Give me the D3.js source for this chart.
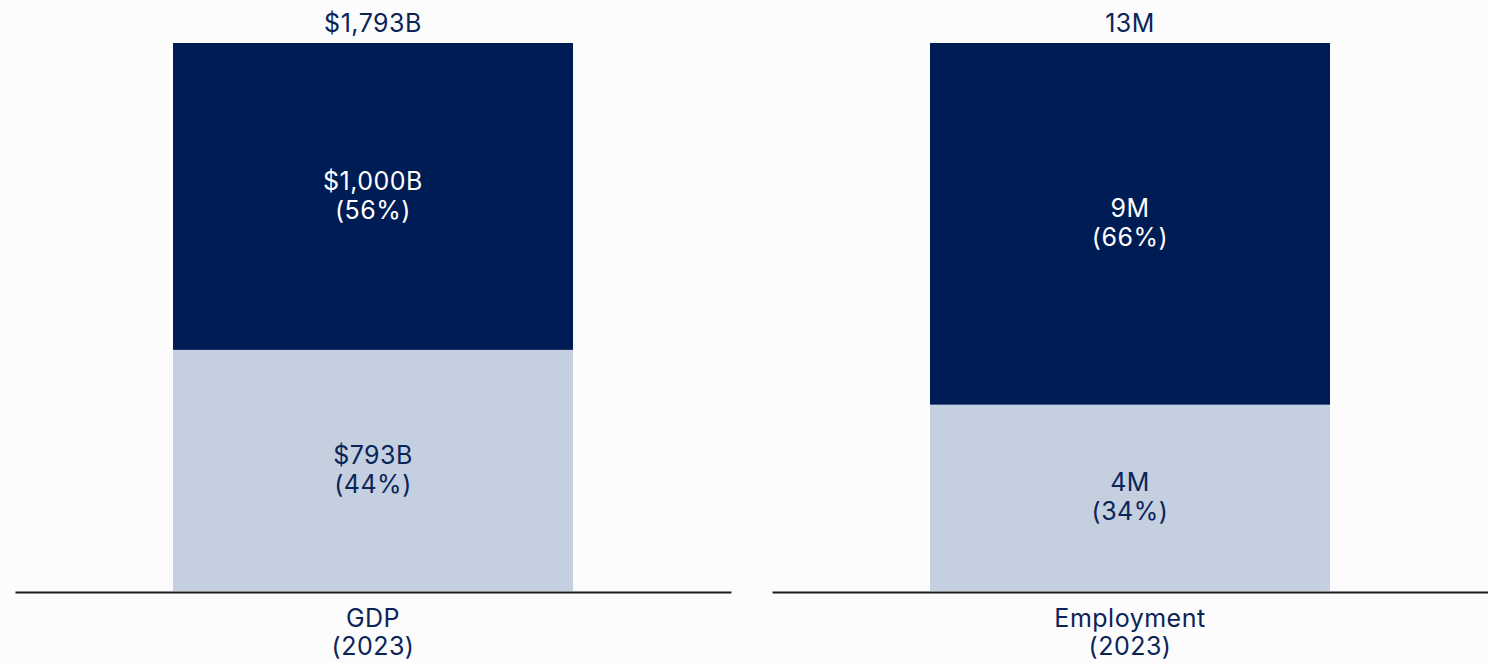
<!DOCTYPE html>
<html>
<head>
<meta charset="utf-8">
<script src="https://cdn.jsdelivr.net/npm/d3@7"></script>
<style>
  html, body { margin: 0; padding: 0; background: #fcfcfc; }
  svg { display: block; }
  text { font-family: "Inter", "Roboto", sans-serif; font-size: 25px; letter-spacing: 0.5px; }
</style>
</head>
<body>
<svg id="chart" width="1488" height="663"></svg>
<script>
// Two stacked 100% bars: GDP and employment split into two components
const categories = ["GDP", "Employment"];
const years = ["2023", "2023"];
const totalLabels = ["$1,793B", "13M"];
const lowerValueLabels = ["$793B", "4M"];
const upperValueLabels = ["$1,000B", "9M"];
const lowerShares = [44, 34];
const upperShares = [56, 66];

const navy = "#001c54";
const light = "#c4cfe0";
const textNavy = "#0b2458";
const lineH = 29;

const svg = d3.select("#chart");

// Panels side by side
const panels = d3.scaleBand()
  .domain(categories)
  .range([15, 1488])
  .paddingInner(0.0543);

const y = d3.scaleLinear().domain([0, 100]).range([591, 43]);

categories.forEach((cat, i) => {
  const px = panels(cat);
  const pw = panels.bandwidth();
  const x = d3.scaleBand().domain([cat]).range([px, px + pw]).paddingInner(0).paddingOuter(0.396);
  const bx = Math.round(x(cat)), bw = Math.round(x.bandwidth());
  const cx = bx + bw / 2;

  const g = svg.append("g");

  const segs = [
    { v0: 0, v1: lowerShares[i], fill: light, color: textNavy, label: lowerValueLabels[i], pct: lowerShares[i] },
    { v0: lowerShares[i], v1: lowerShares[i] + upperShares[i], fill: navy, color: "#ffffff", label: upperValueLabels[i], pct: upperShares[i] }
  ];

  g.selectAll("rect").data(segs).join("rect")
    .attr("x", bx)
    .attr("width", bw)
    .attr("y", d => y(d.v1))
    .attr("height", d => y(d.v0) - y(d.v1))
    .attr("fill", d => d.fill);

  const lab = g.selectAll("text.seg").data(segs).join("text")
    .attr("class", "seg")
    .attr("text-anchor", "middle")
    .attr("fill", d => d.color)
    .attr("x", cx)
    .attr("y", d => (y(d.v0) + y(d.v1)) / 2 - 6.5);
  lab.append("tspan").attr("x", cx).text(d => d.label);
  lab.append("tspan").attr("x", cx).attr("dy", lineH).text(d => `(${d.pct}%)`);

  // total above the bar
  g.append("text")
    .attr("text-anchor", "middle")
    .attr("fill", textNavy)
    .attr("x", cx)
    .attr("y", y(100) - 11)
    .text(totalLabels[i]);

  // baseline axis
  const axis = d3.axisBottom(x).tickSize(0).tickFormat(() => "");
  const ag = g.append("g").attr("transform", `translate(0,${y(0) + 1})`).call(axis);
  ag.select(".domain").attr("stroke", "#1a1a1a").attr("stroke-width", 2);

  const cl = g.append("text")
    .attr("text-anchor", "middle")
    .attr("fill", textNavy)
    .attr("x", cx)
    .attr("y", 627);
  cl.append("tspan").attr("x", cx).text(cat);
  cl.append("tspan").attr("x", cx).attr("dy", lineH - 1).text(`(${years[i]})`);
});
</script>
</body>
</html>
